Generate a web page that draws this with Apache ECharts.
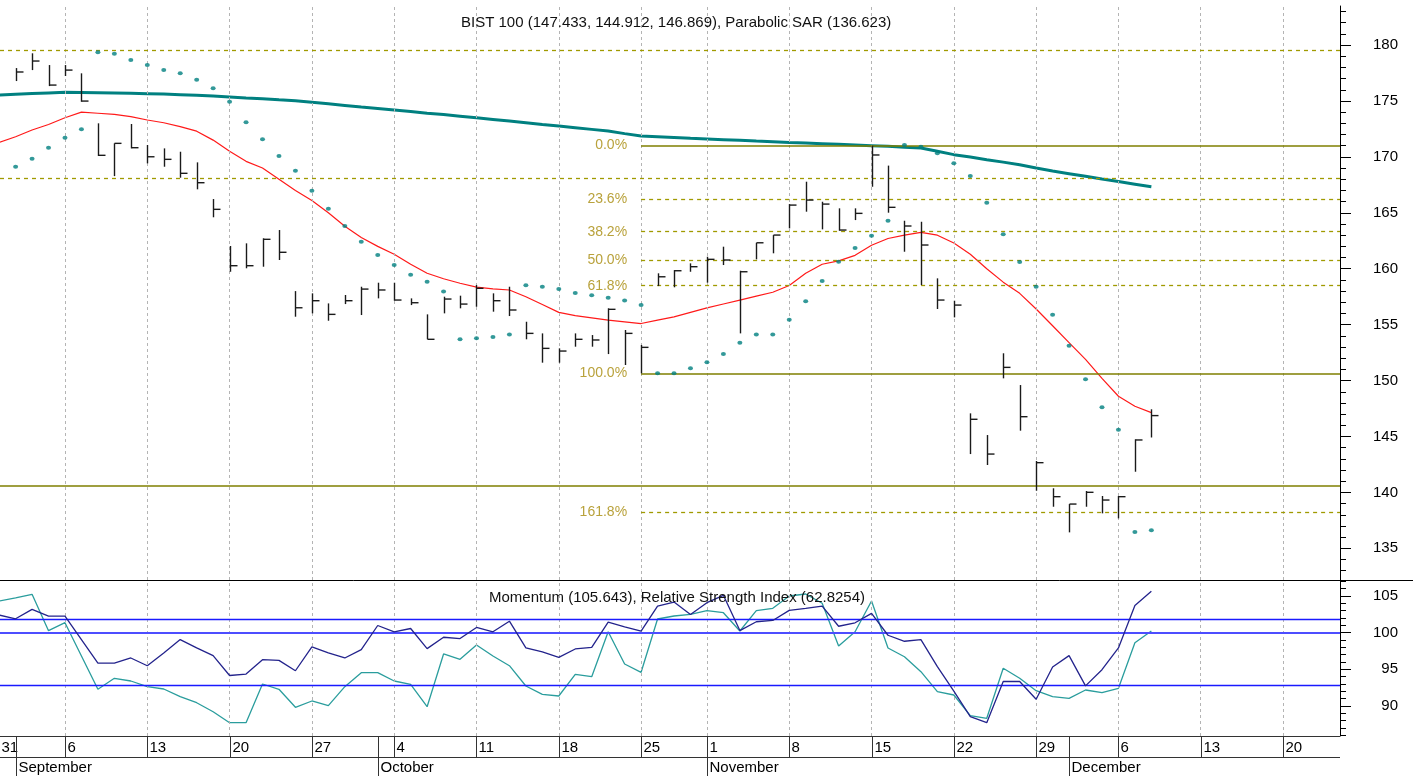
<!DOCTYPE html>
<html>
<head>
<meta charset="utf-8">
<title>BIST 100 - Parabolic SAR, Momentum, RSI</title>
<script src="https://cdn.jsdelivr.net/npm/echarts@6/dist/echarts.min.js"></script>
<style>
  html, body { margin: 0; padding: 0; background: #fff; }
  #chart { width: 1413px; height: 778px; }
</style>
</head>
<body>
<div id="chart"></div>
<script>
// x = trading day index: 0 = Aug 31, 1 = Sep 1 ... (Oct 29 holiday skipped)
const firstBar = 1

// HLC bars, Sep 1 .. Dec 8
const highs = [
  177.94, 179.26, 178.21, 178.21, 177.47, 173.00, 171.21, 172.94, 171.06, 170.76,
  170.46, 169.51, 166.23, 162.03, 162.27, 162.72, 163.46, 158.00, 157.80, 156.90,
  157.65, 158.39, 158.75, 158.75, 157.35, 155.92, 157.50, 157.59, 158.54, 157.80,
  158.39, 155.26, 154.22, 152.88, 154.22, 154.07, 156.46, 154.52, 153.18, 159.59,
  159.88, 160.48, 161.07, 161.97, 159.82, 162.32, 163.01, 165.78, 167.78, 165.99,
  165.40, 165.40, 171.00, 169.22, 164.29, 164.20, 159.14, 157.14, 147.07, 145.13,
  152.44, 149.60, 142.81, 140.37, 138.96, 140.13, 139.68, 139.68, 144.75, 147.433
]
const lows = [
  176.78, 177.76, 176.33, 177.23, 174.93, 170.08, 168.28, 170.76, 169.42, 169.12,
  168.14, 167.10, 164.60, 159.73, 160.04, 160.18, 160.78, 155.71, 156.01, 155.35,
  156.84, 155.86, 157.35, 157.14, 156.75, 153.69, 156.01, 156.46, 156.60, 156.16,
  155.77, 153.69, 151.60, 151.60, 153.03, 153.03, 152.37, 151.39, 150.65, 158.45,
  158.34, 159.73, 158.75, 160.33, 154.22, 160.84, 161.38, 163.61, 165.10, 163.52,
  163.40, 164.35, 167.33, 165.01, 161.52, 158.54, 156.40, 155.65, 143.43, 142.45,
  150.20, 145.52, 140.15, 138.72, 136.43, 138.72, 138.13, 137.68, 141.85, 144.912
]
const closes = [
  177.59, 178.57, 176.42, 177.76, 174.99, 170.14, 171.21, 170.82, 170.01, 169.78,
  168.53, 167.69, 165.31, 160.27, 160.27, 162.63, 161.47, 156.51, 157.14, 155.92,
  157.14, 158.18, 158.10, 157.20, 156.96, 153.69, 157.29, 156.84, 158.25, 157.14,
  156.31, 154.22, 152.88, 152.64, 153.69, 153.63, 156.37, 154.22, 152.97, 159.28,
  159.82, 160.18, 160.84, 160.78, 159.73, 162.32, 163.01, 165.69, 166.14, 165.78,
  163.46, 164.95, 170.17, 165.49, 163.82, 162.12, 157.20, 156.75, 146.54, 143.43,
  151.18, 146.77, 142.66, 139.62, 138.96, 140.01, 139.32, 139.62, 144.69, 146.869
]
const sar = [
  169.12, 169.83, 170.82, 171.71, 172.46, 179.35, 179.22, 178.66, 178.21, 177.76,
  177.47, 176.90, 176.13, 174.93, 173.09, 171.57, 170.08, 168.76, 166.97, 165.36,
  163.82, 162.41, 161.22, 160.33, 159.46, 158.84, 157.96, 153.69, 153.78, 153.89,
  154.13, 158.52, 158.39, 158.19, 157.83, 157.62, 157.41, 157.17, 156.75, 150.65,
  150.65, 151.10, 151.63, 152.37, 153.38, 154.13, 154.13, 155.44, 157.09, 158.90,
  160.63, 161.85, 162.95, 164.29, 171.06, 170.91, 170.32, 169.42, 168.29, 165.90,
  163.08, 160.60, 158.39, 155.89, 153.12, 150.11, 147.61, 145.61, 136.46, 136.623
]

// moving averages, Aug 31 .. Dec 8
const maFast = [
  171.3, 171.8, 172.4, 172.9, 173.5, 174.0, 173.9, 173.8, 173.6, 173.3,
  173.05, 172.7, 172.3, 171.5, 170.5, 169.6, 169.0, 168.0, 167.0, 166.1,
  165.0, 163.8, 162.8, 162.0, 161.3, 160.4, 159.6, 159.1, 158.7, 158.35,
  158.2, 158.1, 157.5, 156.8, 156.1, 155.8, 155.6, 155.4, 155.25, 155.1,
  155.4, 155.7, 156.1, 156.5, 156.85, 157.2, 157.55, 157.9, 158.5, 159.6,
  160.4, 160.7, 161.2, 162.1, 162.7, 163.0, 163.25, 163.0, 162.3, 161.3,
  160.0, 158.8, 157.8, 156.4, 154.9, 153.4, 151.9, 150.2, 148.6, 147.7,
  147.13
]
const maSlow = [
  175.53, 175.60, 175.66, 175.72, 175.77, 175.76, 175.74, 175.71, 175.68, 175.65,
  175.62, 175.56, 175.50, 175.44, 175.36, 175.27, 175.19, 175.10, 175.02, 174.88,
  174.74, 174.60, 174.46, 174.33, 174.19, 174.05, 173.91, 173.78, 173.64, 173.50,
  173.35, 173.20, 173.05, 172.90, 172.76, 172.61, 172.46, 172.31, 172.08, 171.86,
  171.80, 171.73, 171.66, 171.60, 171.54, 171.48, 171.41, 171.35, 171.29, 171.24,
  171.18, 171.12, 171.06, 171.00, 170.94, 170.86, 170.79, 170.50, 170.20, 169.98,
  169.75, 169.53, 169.30, 169.00, 168.73, 168.50, 168.26, 168.02, 167.79, 167.56,
  167.33
]

// lower panel, Aug 31 .. Dec 8
const momentum = [
  102.4, 101.9, 103.18, 102.26, 102.26, 99.06, 95.86, 95.86, 96.55, 95.49,
  97.24, 99.06, 97.92, 96.87, 94.16, 94.36, 96.32, 96.22, 94.81, 98.06,
  97.24, 96.55, 97.69, 100.98, 100.12, 100.57, 97.83, 99.38, 99.2, 100.71,
  100.12, 101.57, 97.92, 97.37, 96.63, 97.78, 98.0, 101.43, 100.8, 100.2,
  103.63, 104.18, 102.49, 104.09, 105.1, 100.29, 101.49, 101.67, 103.04, 103.31,
  103.63, 100.88, 101.35, 102.63, 99.65, 98.83, 99.06, 95.36, 92.02, 88.54,
  87.72, 93.34, 93.34, 90.93, 95.32, 96.87, 92.75, 94.95, 97.92, 103.72,
  105.643
]
const rsi = [
  81.1, 83.0, 85.22, 63.06, 67.93, 47.66, 27.38, 34.08, 32.44, 28.97,
  27.56, 22.88, 19.22, 13.74, 7.05, 7.05, 30.61, 27.38, 16.42, 20.26,
  17.4, 28.97, 37.49, 37.49, 32.44, 30.43, 16.79, 48.88, 45.65, 54.35,
  47.66, 41.75, 29.39, 24.34, 23.3, 36.51, 35.05, 62.45, 42.79, 37.73,
  70.18, 72.01, 73.04, 75.24, 74.02, 62.88, 75.24, 76.7, 84.19, 85.4,
  79.74, 53.74, 62.45, 81.14, 52.53, 47.23, 38.1, 25.92, 23.91, 11.31,
  9.73, 40.17, 34.08, 26.53, 22.88, 21.9, 26.96, 25.31, 27.99, 55.75,
  62.8254
]

// fibonacci retracement from the Oct 25 low to the Nov 15 high
const fibStart = 39
const fibLevels = [171.03, 166.23, 163.31, 160.80, 158.48, 150.65, 138.22]
const fibLabels = ['0.0%', '23.6%', '38.2%', '50.0%', '61.8%', '100.0%', '161.8%']
const fibSolid = [true, false, false, false, false, true, false]
const dashedLevels = [179.49, 168.08]
const solidLevels = [140.6]

const priceTicks = [135, 140, 145, 150, 155, 160, 165, 170, 175, 180]
const momTicks = [90, 95, 100, 105]
const momBase = 100
const rsiLevels = [70, 30]

const dayTicks = [0, 4, 9, 14, 19, 24, 29, 34, 39, 43, 48, 53, 58, 63, 68, 73, 78]
const dayLabels = ['31', '6', '13', '20', '27', '4', '11', '18', '25', '1', '8', '15', '22', '29', '6', '13', '20']
const monthStarts = [1, 23, 43, 65]
const monthNames = ['September', 'October', 'November', 'December']

const X_MIN = 0.052
const X_MAX = 81.46
const range = (a, b) => { const r = []; for (let v = a; v <= b; v++) r.push(v); return r }

const chart = echarts.init(document.getElementById('chart'))

const barData = highs.map((h, k) => [firstBar + k, h, lows[k], closes[k]])
const sarData = sar.map((v, k) => [firstBar + k, v])
const fastData = maFast.map((v, k) => [k, v])
const slowData = maSlow.map((v, k) => [k, v])
const momData = momentum.map((v, k) => [k, v])
const rsiData = rsi.map((v, k) => [k, v])
const gridV = dayTicks.filter(d => d > 0).map(d => ({ xAxis: d }))

const font = 'Arial, "Liberation Sans", sans-serif'
const solidCol = '#7f7f00'
const dashCol = '#a09a00'
const fibTextCol = '#b9a23c'

const fibMarks = fibLevels.map((lv, k) => [
  {
    coord: [fibStart, lv],
    lineStyle: { color: fibSolid[k] ? solidCol : dashCol, type: fibSolid[k] ? 'solid' : [4, 4], width: fibSolid[k] ? 1.5 : 1.3 },
    label: { show: true, position: 'start', formatter: fibLabels[k], color: fibTextCol, fontSize: 14, fontFamily: font, distance: 14 }
  },
  { coord: [X_MAX, lv] }
])
const fullMarks = dashedLevels.map(v => ({ yAxis: v, lineStyle: { color: dashCol, type: [4, 4], width: 1.3 } }))
  .concat(solidLevels.map(v => ({ yAxis: v, lineStyle: { color: solidCol, type: 'solid', width: 1.5 } })))

function valueAxis(grid, min, max, ticks, extra) {
  return Object.assign({
    type: 'value', gridIndex: grid, position: 'right', min: min, max: max,
    axisLine: { show: true, lineStyle: { color: '#000', width: 1 } },
    axisTick: { show: true, length: 11, customValues: ticks, lineStyle: { color: '#000' } },
    axisLabel: { show: true, customValues: ticks, align: 'right', margin: 58, fontSize: 15, fontFamily: font, color: '#000' },
    splitLine: { show: false }
  }, extra || {})
}
function minorAxis(grid, min, max, ticks) {
  return {
    type: 'value', gridIndex: grid, position: 'right', min: min, max: max,
    axisLine: { show: false },
    axisTick: { show: true, length: 6, customValues: ticks, lineStyle: { color: '#000' } },
    axisLabel: { show: false },
    splitLine: { show: false }
  }
}
const hiddenX = g => ({ type: 'value', gridIndex: g, min: X_MIN, max: X_MAX, show: false })
const hiddenY = (g, min, max) => ({ type: 'value', gridIndex: g, min: min, max: max, show: false })

function dayRow(params, api) {
  const cs = params.coordSys
  const x = Math.round(api.coord([api.value(0), 0])[0]) + 0.5
  const lbl = dayLabels[params.dataIndex]
  return {
    type: 'group',
    children: [
      { type: 'line', shape: { x1: x, y1: cs.y, x2: x, y2: cs.y + cs.height }, style: { stroke: '#333', lineWidth: 1 } },
      { type: 'text', x: x + 2, y: cs.y + cs.height / 2 + 1,
        style: { text: lbl, fill: '#000', font: '15px ' + font, align: 'left', verticalAlign: 'middle', textAlign: 'left', textVerticalAlign: 'middle' } }
    ]
  }
}
function monthRow(params, api) {
  const cs = params.coordSys
  const x = Math.round(api.coord([api.value(0), 0])[0]) + 0.5
  return {
    type: 'group',
    children: [
      { type: 'line', shape: { x1: x, y1: cs.y - 21, x2: x, y2: cs.y + cs.height - 2 }, style: { stroke: '#333', lineWidth: 1 } },
      { type: 'text', x: x + 2, y: cs.y + cs.height / 2,
        style: { text: monthNames[params.dataIndex], fill: '#000', font: '15px ' + font, align: 'left', verticalAlign: 'middle', textAlign: 'left', textVerticalAlign: 'middle' } }
    ]
  }
}
function hlcBar(params, api) {
  const i = api.value(0)
  const hi = api.coord([i, api.value(1)])
  const lo = api.coord([i, api.value(2)])
  const cl = api.coord([i, api.value(3)])
  const x = Math.round(hi[0]) + 0.5
  const style = { stroke: '#1a1a1a', lineWidth: 1.4 }
  return {
    type: 'group',
    children: [
      { type: 'line', shape: { x1: x, y1: hi[1], x2: x, y2: lo[1] }, style: style },
      { type: 'line', shape: { x1: x, y1: cl[1], x2: x + 7, y2: cl[1] }, style: style }
    ]
  }
}

const gridLineMark = {
  symbol: ['none', 'none'], silent: true, animation: false,
  label: { show: false },
  lineStyle: { color: '#b4b4b4', type: [3, 3], width: 1 },
  data: gridV
}

chart.setOption({
  animation: false,
  backgroundColor: '#fff',
  title: [
    { text: 'BIST 100 (147.433, 144.912, 146.869), Parabolic SAR (136.623)', left: 456, top: 10,
      textStyle: { fontSize: 15, fontWeight: 'normal', color: '#111', fontFamily: font } },
    { text: 'Momentum (105.643), Relative Strength Index (62.8254)', left: 484, top: 585,
      textStyle: { fontSize: 15, fontWeight: 'normal', color: '#111', fontFamily: font } }
  ],
  grid: [
    { left: 0, top: 6, width: 1340, height: 574 },
    { left: 0, top: 581, width: 1340, height: 155 },
    { left: 0, top: 737, width: 1340, height: 20 },
    { left: 0, top: 758, width: 1340, height: 20 }
  ],
  xAxis: [hiddenX(0), hiddenX(1), hiddenX(2), hiddenX(3)],
  yAxis: [
    valueAxis(0, 132.17, 183.49, priceTicks),
    minorAxis(0, 132.17, 183.49, range(133, 183)),
    valueAxis(1, 85.91, 107.05, momTicks),
    minorAxis(1, 85.91, 107.05, range(86, 107)),
    hiddenY(1, -1.05, 93.32),
    hiddenY(2, 0, 1),
    hiddenY(3, 0, 1)
  ],
  graphic: [
    { type: 'line', shape: { x1: 0, y1: 580.5, x2: 1413, y2: 580.5 }, style: { stroke: '#000', lineWidth: 1 }, silent: true },
    { type: 'line', shape: { x1: 0, y1: 736.5, x2: 1340, y2: 736.5 }, style: { stroke: '#333', lineWidth: 1 }, silent: true },
    { type: 'line', shape: { x1: 0, y1: 757.5, x2: 1340, y2: 757.5 }, style: { stroke: '#333', lineWidth: 1 }, silent: true }
  ],
  series: [
    { type: 'line', xAxisIndex: 0, yAxisIndex: 0, data: [], markLine: gridLineMark },
    { type: 'line', xAxisIndex: 1, yAxisIndex: 2, data: [], markLine: gridLineMark },
    {
      name: 'levels', type: 'line', xAxisIndex: 0, yAxisIndex: 0, data: [],
      markLine: { symbol: ['none', 'none'], silent: true, animation: false, label: { show: false }, data: fullMarks.concat(fibMarks) }
    },
    {
      name: 'MA slow', type: 'line', xAxisIndex: 0, yAxisIndex: 0, data: slowData,
      showSymbol: false, lineStyle: { color: '#008080', width: 3 }, z: 3
    },
    {
      name: 'MA fast', type: 'line', xAxisIndex: 0, yAxisIndex: 0, data: fastData,
      showSymbol: false, lineStyle: { color: '#ff1a1a', width: 1.2 }, z: 4
    },
    {
      name: 'Parabolic SAR', type: 'scatter', xAxisIndex: 0, yAxisIndex: 0, data: sarData,
      symbol: 'circle', symbolSize: [5, 4], itemStyle: { color: '#008080' }, z: 5
    },
    {
      name: 'BIST 100', type: 'custom', xAxisIndex: 0, yAxisIndex: 0, data: barData,
      renderItem: hlcBar, encode: { x: 0, y: [1, 2, 3] }, z: 6
    },
    {
      name: 'Momentum', type: 'line', xAxisIndex: 1, yAxisIndex: 2, data: momData,
      showSymbol: false, lineStyle: { color: '#23238c', width: 1.3 }, z: 5,
      markLine: { symbol: ['none', 'none'], silent: true, label: { show: false },
        lineStyle: { color: '#4d4dff', width: 2.2, type: 'solid' }, data: [{ yAxis: momBase }] }
    },
    {
      name: 'RSI', type: 'line', xAxisIndex: 1, yAxisIndex: 4, data: rsiData,
      showSymbol: false, lineStyle: { color: '#2a9d9d', width: 1.3 }, z: 4,
      markLine: { symbol: ['none', 'none'], silent: true, label: { show: false },
        lineStyle: { color: '#1a1aff', width: 1.4, type: 'solid' }, data: rsiLevels.map(v => ({ yAxis: v })) }
    },
    {
      type: 'custom', xAxisIndex: 2, yAxisIndex: 5, data: dayTicks.map(d => [d, 0]),
      renderItem: dayRow, encode: { x: 0, y: 1 }, clip: false, silent: true
    },
    {
      type: 'custom', xAxisIndex: 3, yAxisIndex: 6, data: monthStarts.map(d => [d, 0]),
      renderItem: monthRow, encode: { x: 0, y: 1 }, clip: false, silent: true
    }
  ]
})
</script>
</body>
</html>
